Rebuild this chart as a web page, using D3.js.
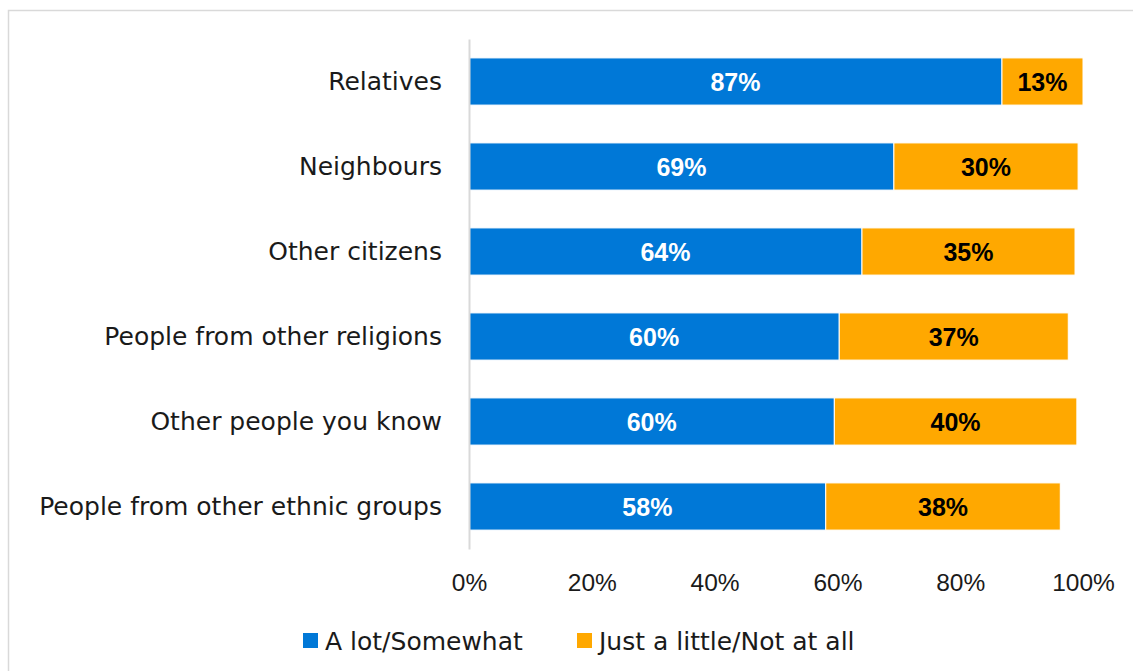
<!DOCTYPE html>
<html><head><meta charset="utf-8">
<script src="https://cdn.jsdelivr.net/npm/d3@7"></script>
<style>
html,body{margin:0;padding:0;background:#fff;}
svg{display:block;}
</style></head>
<body>
<svg id="chart" width="1133" height="671"></svg>
<script>
const categories = ["Relatives","Neighbours","Other citizens","People from other religions","Other people you know","People from other ethnic groups"];
const seriesNames = ["A lot/Somewhat","Just a little/Not at all"];
const aLot = [86.8, 69.2, 64.0, 60.3, 59.5, 58.1];
const little = [13.2, 30.0, 34.7, 37.3, 39.5, 38.2];
const ticks = [0,20,40,60,80,100];
const colors = ["#0078D7","#FFA800"];

const svg = d3.select("#chart");
// frame
svg.append("rect").attr("x",8.5).attr("y",10.5).attr("width",1130).attr("height",670)
  .attr("fill","none").attr("stroke","#d9d9d9").attr("stroke-width",1.5);

const x = d3.scaleLinear().domain([0,100]).range([469,1083]);
const y = d3.scaleBand().domain(categories).range([39,549]).paddingInner(0.445).paddingOuter(0.2225);

const rows = categories.map((c,i)=>({c, a:aLot[i], b:little[i]}));
const labelFont = "'Liberation Sans',Arial,sans-serif";

// bars
const g = svg.append("g");
rows.forEach(r=>{
  g.append("rect").attr("x",x(0)).attr("y",y(r.c)).attr("width",x(r.a)-x(0)).attr("height",y.bandwidth())
    .attr("fill",colors[0]).attr("stroke","#fff").attr("stroke-width",1);
  g.append("rect").attr("x",x(r.a)).attr("y",y(r.c)).attr("width",x(r.a+r.b)-x(r.a)).attr("height",y.bandwidth())
    .attr("fill",colors[1]).attr("stroke","#fff").attr("stroke-width",1);
  g.append("text").attr("x",(x(0)+x(r.a))/2).attr("y",y(r.c)+y.bandwidth()/2).attr("dy","0.36em")
    .attr("text-anchor","middle").attr("fill","#fff").attr("font-weight","bold")
    .attr("font-family",labelFont).attr("font-size",25)
    .text(Math.round(r.a)+"%");
  g.append("text").attr("x",(x(r.a)+x(r.a+r.b))/2).attr("y",y(r.c)+y.bandwidth()/2).attr("dy","0.36em")
    .attr("text-anchor","middle").attr("fill","#000").attr("font-weight","bold")
    .attr("font-family",labelFont).attr("font-size",25)
    .text(Math.round(r.b)+"%");
});

// y axis
const yAxis = svg.append("g").attr("transform",`translate(${x(0)},0)`)
  .call(d3.axisLeft(y).tickSize(0).tickPadding(27));
yAxis.select(".domain").attr("stroke","#d9d9d9").attr("stroke-width",2);
yAxis.selectAll("text").attr("font-family","'DejaVu Sans',sans-serif").attr("font-size",25).attr("fill","#1a1a1a");

// x axis
const xAxis = svg.append("g").attr("transform","translate(0,574)")
  .call(d3.axisBottom(x).tickValues(ticks).tickFormat(d=>d+"%").tickSize(0).tickPadding(0));
xAxis.select(".domain").remove();
xAxis.selectAll("text").attr("font-family",labelFont)
  .attr("font-size",24.5).attr("fill","#1a1a1a").attr("dy","0.71em");

// legend
const leg = svg.append("g");
const legX = [303, 577];
seriesNames.forEach((s,i)=>{
  leg.append("rect").attr("x",legX[i]).attr("y",633).attr("width",15).attr("height",15).attr("fill",colors[i]);
  leg.append("text").attr("x",legX[i]+22).attr("y",640.5).attr("dy","0.36em")
    .attr("font-family","'DejaVu Sans',sans-serif").attr("font-size",25).attr("fill","#1a1a1a").text(s);
});
</script>
</body></html>
